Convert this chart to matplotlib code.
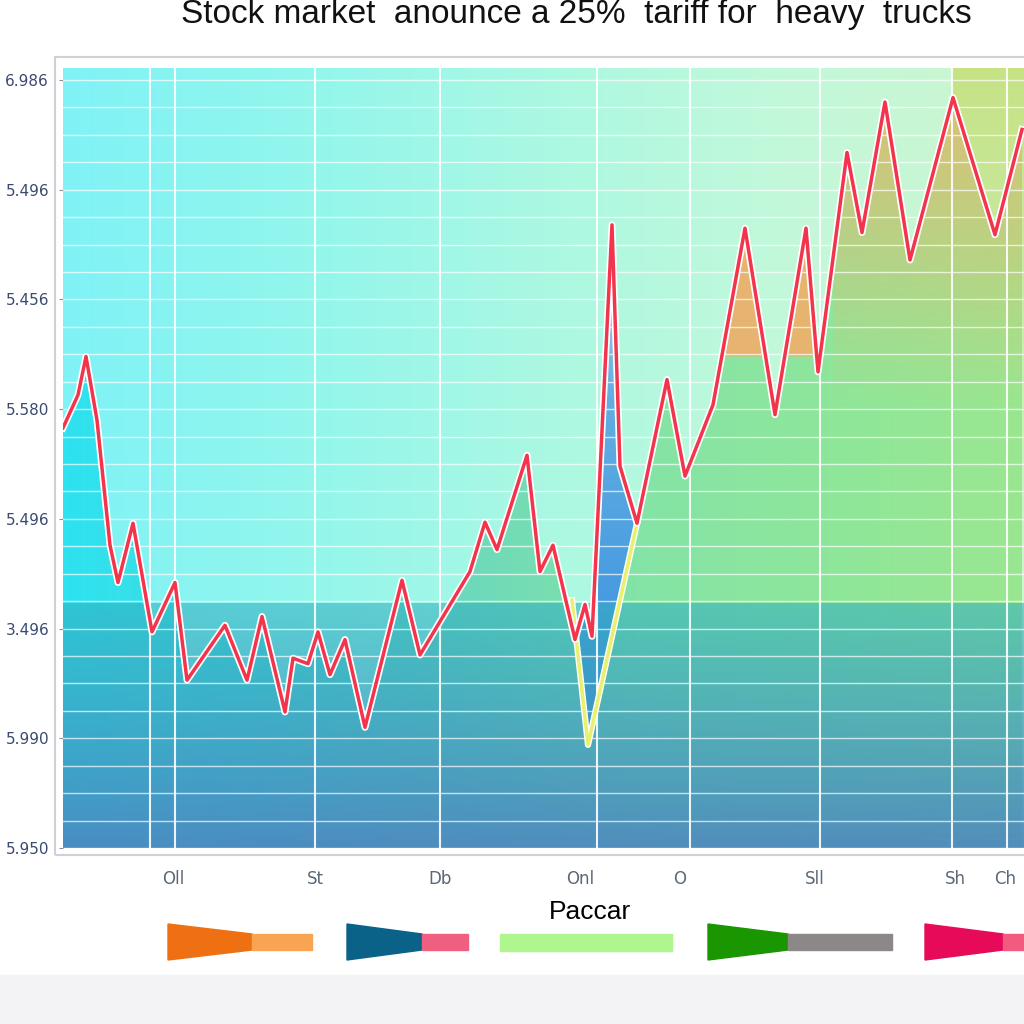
import numpy as np
import matplotlib
matplotlib.use("Agg")
from matplotlib import pyplot as plt
from matplotlib.colors import LinearSegmentedColormap, to_rgb
from matplotlib.patches import Polygon, Rectangle
import matplotlib.patheffects as pe

# price line (x = trading step, y = price level on the chart scale)
price_x = np.array([0.0, 1.5, 2.3, 3.4, 4.7, 5.5, 7.0, 8.0, 8.9, 11.2, 12.4, 16.2, 18.4, 19.9,
                    22.2, 23.0, 24.5, 25.5, 26.7, 28.2, 30.2, 33.9, 35.7, 40.7, 42.2, 43.4,
                    46.4, 47.7, 49.0, 51.2, 52.2, 52.9, 54.9, 55.7, 57.4, 60.4, 62.2, 65.0,
                    68.2, 71.2, 74.3, 75.5, 78.4, 79.9, 82.2, 84.7, 89.0, 93.2, 95.9])
price_y = np.array([3.83, 4.13, 4.48, 3.90, 2.76, 2.42, 2.96, 2.44, 1.97, 2.42, 1.53, 2.03, 1.53, 2.11,
                    1.24, 1.73, 1.68, 1.97, 1.58, 1.90, 1.10, 2.44, 1.76, 2.52, 2.97, 2.72,
                    3.58, 2.52, 2.76, 1.90, 2.22, 1.93, 5.68, 3.48, 2.96, 4.27, 3.39, 4.04,
                    5.65, 3.95, 5.65, 4.34, 6.34, 5.61, 6.80, 5.36, 6.84, 5.59, 6.55])

# lower (yellow) line around the dip
dip_x = np.array([50.9, 52.5, 57.4])
dip_y = np.array([2.26, 0.94, 2.96])

orange_level = 4.48
orange_until = 77.0
band_level = 2.23

ytick_pos = [0, 1, 2, 3, 4, 5, 6, 7]
ytick_labels = ["5.950", "5.990", "3.496", "5.496", "5.580", "5.456", "5.496", "6.986"]
xtick_pos = [11.0, 25.2, 37.7, 51.7, 61.7, 75.2, 89.2, 94.2]
xtick_labels = ["Oll", "St", "Db", "Onl", "O", "Sll", "Sh", "Ch"]
vgrid_pos = [8.7, 11.2, 25.2, 37.7, 53.4, 62.7, 75.7, 88.9, 94.4]

legend_main = ["#ee7012", "#0a6288", "#b0f68e", "#1a9600", "#e60a58"]
legend_tail = ["#f8a452", "#ef6080", None, "#8c8888", "#f25a80"]

XMAX, YMAX = 96.1, 7.11

fig = plt.figure(figsize=(10.24, 10.24), dpi=100)
W = H = 1024.0

def fx(px):
    return px / W

def fy(py):
    return 1 - py / H

# page decorations
fig.patches.append(Rectangle((0, 0), 1, fy(975), transform=fig.transFigure,
                             color="#f3f3f6", zorder=0))
fig.patches.append(Rectangle((fx(55), fy(855)), 1, (855 - 57) / H, transform=fig.transFigure,
                             facecolor="none", edgecolor="#cfd0d8", lw=1.5, zorder=0))

ax = fig.add_axes([fx(63), fy(848), (1024 - 63) / W, (848 - 68) / H])
ax.set_xlim(0, XMAX)
ax.set_ylim(0, YMAX)
for s in ax.spines.values():
    s.set_visible(False)

# background gradient
bg = LinearSegmentedColormap.from_list("bg", ["#80f2f6", "#92f6ec", "#aaf8e2", "#c2f8da", "#ccf6d0"])
ax.imshow(np.linspace(0, 1, 256)[None, :], cmap=bg, extent=[0, XMAX, 0, YMAX],
          aspect="auto", zorder=0)

# yellow-green band on the right
yg = np.zeros((100, 1, 4))
yg[..., :3] = to_rgb("#c6e07c")
yg[:, 0, 3] = np.linspace(0.9, 0.0, 100)
ax.imshow(yg, extent=[88.9, XMAX, 2.5, YMAX], aspect="auto", zorder=0.5)

# gradient fill under the price line
fill = ax.fill_between(price_x, price_y, 0, color="none", zorder=1)
fpath = fill.get_paths()[0]
fcm = LinearSegmentedColormap.from_list("fill", ["#2ee2f0", "#44dcdc", "#6ad8be", "#84e4a6",
                                                 "#8ee69a", "#9ae690"])
im = ax.imshow(np.linspace(0, 1, 256)[None, :], cmap=fcm, extent=[0, XMAX, 0, YMAX],
               aspect="auto", zorder=1)
im.set_clip_path(fpath, transform=ax.transData)

# warm tint in the upper right part of the fill
tint = np.zeros((100, 1, 4))
tint[..., :3] = to_rgb("#f0b46c")
tint[:, 0, 3] = np.linspace(0.85, 0.0, 100)
tim = ax.imshow(tint, extent=[orange_until, XMAX, 4.0, YMAX], aspect="auto", zorder=1.5)
tim.set_clip_path(fpath, transform=ax.transData)

# orange over the middle peaks
ax.fill_between(price_x, price_y, orange_level,
                where=(price_y > orange_level) & (price_x < orange_until), interpolate=True,
                color="#f7ac68", alpha=0.85, lw=0, zorder=2)

# blue dip region
sel = (price_x >= dip_x[0]) & (price_x <= dip_x[-1])
poly = Polygon(np.column_stack([np.concatenate([dip_x, price_x[sel][::-1]]),
                                np.concatenate([dip_y, price_y[sel][::-1]])]),
               facecolor="none", edgecolor="none")
ax.add_patch(poly)
bcm = LinearSegmentedColormap.from_list("blue", ["#3a8cd8", "#4a9ee0", "#62aee2", "#c8d6e0"])
bim = ax.imshow(np.linspace(1, 0, 256)[:, None], cmap=bcm, extent=[50, 58, 0.9, 5.7],
                aspect="auto", zorder=2)
bim.set_clip_path(poly)

# darker lower band (teal at the top, steel blue at the bottom)
n = 100
band = np.zeros((n, 1, 4))
top_c, bot_c = np.array(to_rgb("#30aebf")), np.array(to_rgb("#4d86bf"))
t = np.linspace(0, 1, n)[:, None]
band[:, 0, :3] = top_c * (1 - t) + bot_c * t
band[:, 0, 3] = np.linspace(0.55, 0.92, n)
ax.imshow(band, extent=[0, XMAX, 0, band_level], aspect="auto", zorder=3)

# grid
for yv in np.arange(0, YMAX, 0.25):
    ax.axhline(yv, color="white", lw=1, alpha=0.7, zorder=4)
for xv in vgrid_pos:
    ax.axvline(xv, color="white", lw=1.5, alpha=0.9, zorder=4)

# lines
ax.plot(dip_x, dip_y, color="#e8f070", lw=2.5, zorder=5,
        path_effects=[pe.withStroke(linewidth=4.5, foreground="white")])
ax.plot(price_x, price_y, color="#f2344c", lw=2.5, zorder=6,
        path_effects=[pe.withStroke(linewidth=5, foreground="white")])

ax.set_xticks(xtick_pos)
ax.set_xticklabels(xtick_labels)
ax.set_yticks(ytick_pos)
ax.set_yticklabels(ytick_labels)
ax.tick_params(axis="x", length=0, pad=16, labelsize=12, labelcolor="#5a6878")
ax.tick_params(axis="y", length=3, pad=7, labelsize=11, labelcolor="#3a4a70", color="#8090a0")

fig.text(576 / W, fy(14), "Stock market  anounce a 25%  tariff for  heavy  trucks",
         ha="center", va="center", fontsize=24, family="Liberation Sans", color="#111111")
fig.text(590 / W, fy(912), "Paccar", ha="center", va="center", fontsize=19,
         family="Liberation Sans")

# legend swatches
starts = [168, 347, 500, 708, 925]
mids = [252, 422, 672, 788, 1003]
ends = [312, 468, 672, 892, 1030]
cy = 942
for s, m, e, c1, c2 in zip(starts, mids, ends, legend_main, legend_tail):
    if c2 is None:
        fig.patches.append(Rectangle((fx(s), fy(951)), (m - s) / W, 17 / H,
                                     transform=fig.transFigure, color=c1))
        continue
    pts = [(fx(s), fy(cy - 18)), (fx(m), fy(cy - 8)), (fx(m), fy(cy + 8)), (fx(s), fy(cy + 18))]
    fig.patches.append(Polygon(pts, closed=True, transform=fig.transFigure, color=c1))
    fig.patches.append(Rectangle((fx(m), fy(cy + 8)), (e - m) / W, 16 / H,
                                 transform=fig.transFigure, color=c2))

fig.savefig("out.png", dpi=100)
